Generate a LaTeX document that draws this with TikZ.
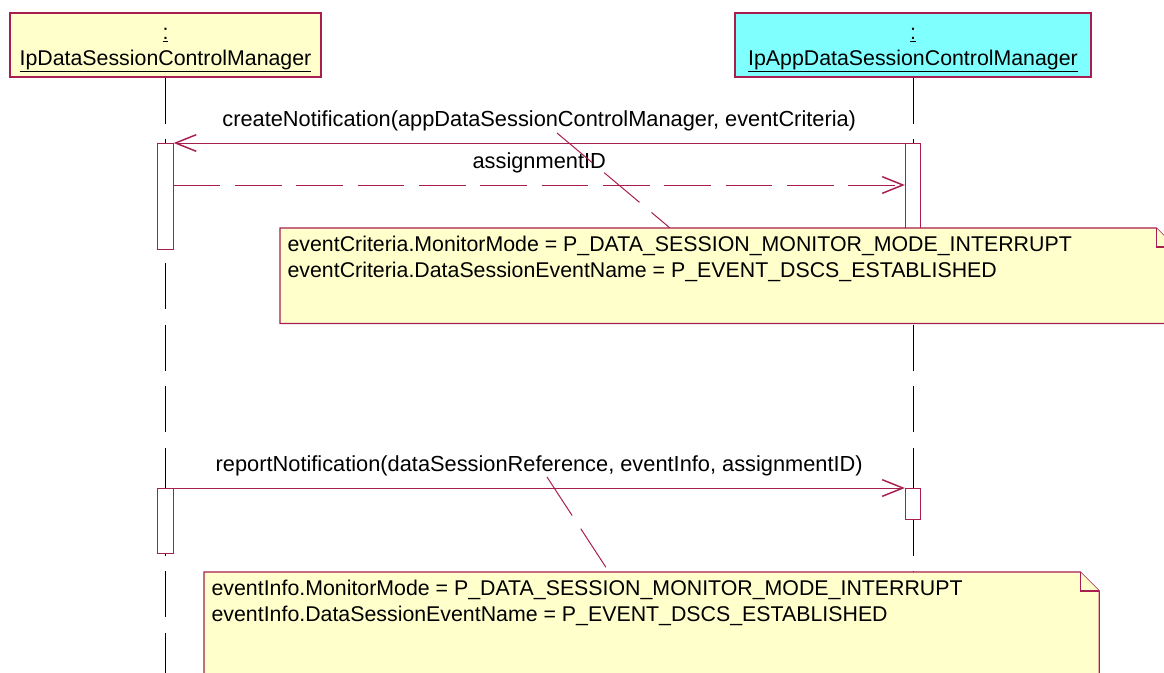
\documentclass[tikz,border=0pt]{standalone}
\usepackage{fontspec}
\setmainfont{Liberation Sans}
\usetikzlibrary{arrows.meta}

\definecolor{umlred}{RGB}{168,30,80}
\definecolor{objyellow}{RGB}{255,255,204}
\definecolor{objcyan}{RGB}{128,255,255}
\definecolor{noteyellow}{RGB}{255,255,204}

\tikzset{
  object/.style={draw=umlred, line width=0.9pt, minimum height=48pt, align=center, inner sep=0pt},
  act/.style={draw=umlred, fill=white, line width=0.75pt, anchor=north, minimum width=11.5pt, inner sep=0pt},
  lifeline/.style={line width=0.7pt, dash pattern=on 34.5pt off 11.8pt},
  msg/.style={draw=umlred, line width=0.75pt, -{Straight Barb[length=15.5pt,width=12.5pt,line width=1.1pt]}},
  ret/.style={msg, dash pattern=on 35pt off 11pt},
  msglabel/.style={anchor=base, yshift=12.5pt, inner sep=0pt, font=\fontsize{16.35}{20}\selectfont},
  noteline/.style={draw=umlred, line width=0.75pt, dash pattern=on 34.5pt off 11.8pt},
  notebox/.style={anchor=north west, inner sep=0pt, minimum width=671pt},
  noteshape/.style={draw=umlred, fill=noteyellow, line width=0.9pt},
  notetext/.style={anchor=north west, align=left, inner sep=0pt},
}

\begin{document}
\begin{tikzpicture}[x=0.75pt, y=-0.75pt, font=\fontsize{16}{19.5}\selectfont]
  \useasboundingbox (0,0) rectangle (1164,672);

  \node[object, fill=objyellow, minimum width=233.25pt] (dscm) at (165.5,45)
    {\rule{0pt}{16pt}\underline{:}\\\underline{IpDataSessionControlManager}};
  \node[object, fill=objcyan, minimum width=267pt] (appdscm) at (913,45)
    {\rule{0pt}{16pt}\underline{:}\\\underline{IpAppDataSessionControlManager}};

  \coordinate (bottom) at (0,700);
  \draw[lifeline] (dscm.south) -- (dscm.south |- bottom);
  \draw[lifeline] (appdscm.south) -- (appdscm.south |- bottom);

  % activations
  \node[act, minimum height=79.5pt] (actL1) at (165.5,143) {};
  \node[act, minimum height=79.5pt] (actR1) at (913,143) {};
  \node[act, minimum height=48.75pt] (actL2) at (165.5,488) {};
  \node[act, minimum height=23.25pt] (actR2) at (913,488) {};

  % messages
  \draw[msg] (actR1.north west) -- node[msglabel]
    {createNotification(appDataSessionControlManager, eventCriteria)} (actL1.north east);
  \coordinate (retY) at (0,185);
  \draw[ret] (actL1.east |- retY) -- node[msglabel] {assignmentID} (actR1.west |- retY);
  \draw[msg] (actL2.north east) -- node[msglabel]
    {reportNotification(dataSessionReference, eventInfo, assignmentID)} (actR2.north west);

  % notes
  \coordinate (n1from) at (557,133);
  \coordinate (n1to) at (670,0);
  \draw[noteline] (n1from) -- (n1to |- 0,228);
  \path (280,228) node[notebox, minimum height=71.25pt] (note1) {};
  \filldraw[noteshape] (note1.north west) -- ([xshift=-14.25pt]note1.north east)
    -- ([yshift=-14.25pt]note1.north east) -- (note1.south east) -- (note1.south west) -- cycle;
  \draw[noteshape] ([xshift=-14.25pt]note1.north east) |- ([yshift=-14.25pt]note1.north east);
  \node[notetext] (note1txt) at ([xshift=5.5pt,yshift=-5.6pt]note1.north west)
    {eventCriteria.MonitorMode = P\_DATA\_SESSION\_MONITOR\_MODE\_INTERRUPT\\
     eventCriteria.DataSessionEventName = P\_EVENT\_DSCS\_ESTABLISHED};

  \coordinate (n2from) at (547,477);
  \coordinate (n2to) at (609,0);
  \draw[noteline] (n2from) -- (n2to |- 0,572);
  \path (204,572) node[notebox, minimum height=96pt] (note2) {};
  \filldraw[noteshape] (note2.north west) -- ([xshift=-14.25pt]note2.north east)
    -- ([yshift=-14.25pt]note2.north east) -- (note2.south east) -- (note2.south west) -- cycle;
  \draw[noteshape] ([xshift=-14.25pt]note2.north east) |- ([yshift=-14.25pt]note2.north east);
  \node[notetext] (note2txt) at ([xshift=5.5pt,yshift=-5.6pt]note2.north west)
    {eventInfo.MonitorMode = P\_DATA\_SESSION\_MONITOR\_MODE\_INTERRUPT\\
     eventInfo.DataSessionEventName = P\_EVENT\_DSCS\_ESTABLISHED};
\end{tikzpicture}
\end{document}
